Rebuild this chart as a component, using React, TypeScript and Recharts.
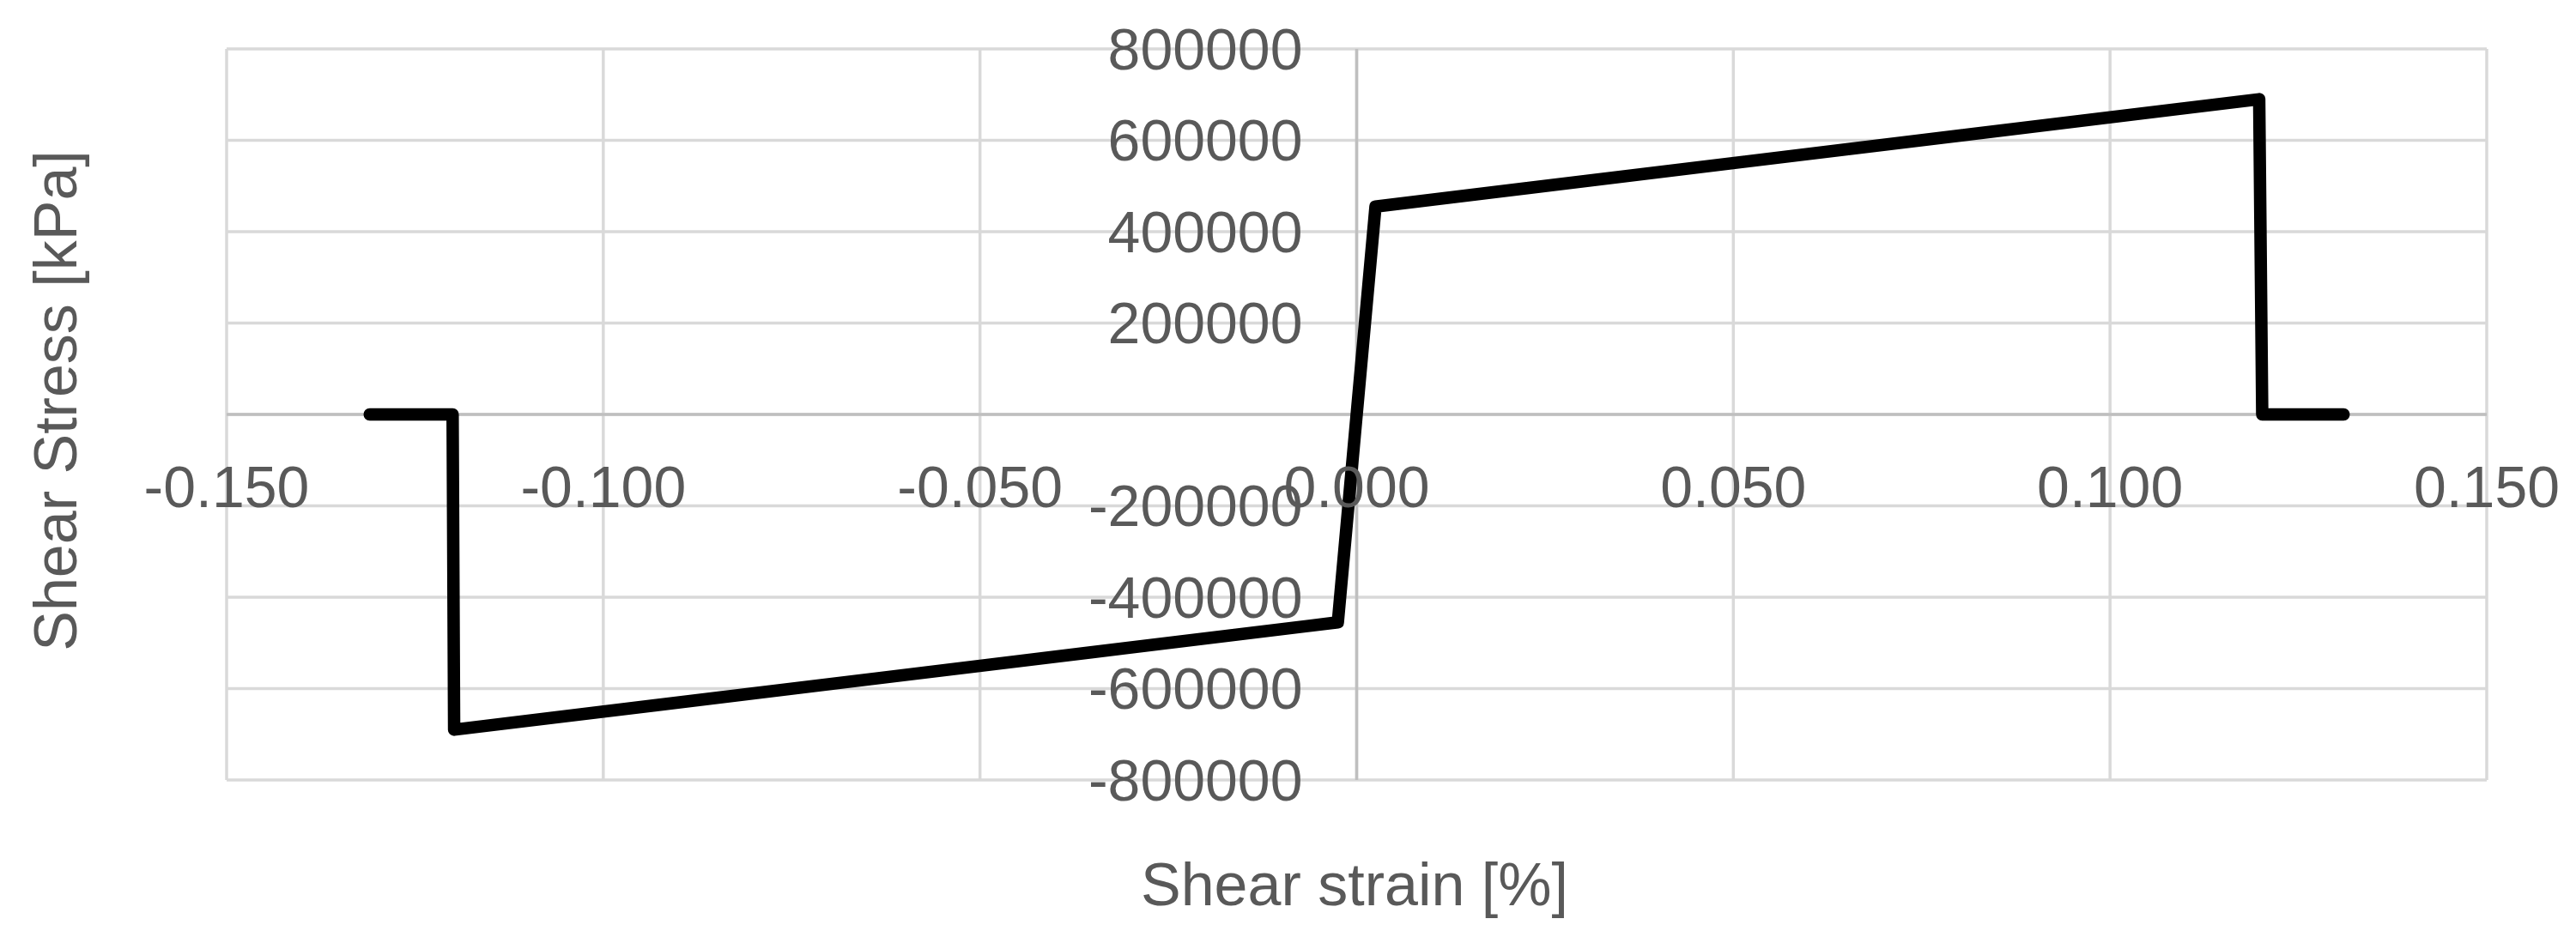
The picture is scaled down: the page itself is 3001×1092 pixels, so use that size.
import {
  LineChart,
  Line,
  XAxis,
  YAxis,
  CartesianGrid,
  ReferenceLine,
  ReferenceDot,
} from "recharts";

const strain = [-0.131, -0.12, -0.1198, -0.0025, 0.0025, 0.1198, 0.1202, 0.131];
const stress = [0, 0, -690000, -455000, 455000, 690000, 0, 0];

const xTicks = [-0.15, -0.1, -0.05, 0, 0.05, 0.1, 0.15];
const yTicks = [-800000, -600000, -400000, -200000, 0, 200000, 400000, 600000, 800000];
// Excel leaves the "0" out on the value axis
const yTickLabels = yTicks.filter((v) => v !== 0);

const data = strain.map((x, i) => ({ x, y: stress[i] }));

const FONT = "'Liberation Sans', Arial, sans-serif";
const TEXT = "#595959";

const XTickLabel = (props: any) => {
  const { viewBox, text } = props;
  return (
    <text
      x={viewBox.x}
      y={viewBox.y + 108}
      textAnchor="middle"
      fill={TEXT}
      fontSize={68}
      fontFamily={FONT}
    >
      {text}
    </text>
  );
};

const YTickLabel = (props: any) => {
  const { viewBox, text } = props;
  return (
    <text
      x={viewBox.x - 63}
      y={viewBox.y}
      dy="0.35em"
      textAnchor="end"
      fill={TEXT}
      fontSize={68}
      fontFamily={FONT}
    >
      {text}
    </text>
  );
};

export default function App() {
  return (
    <div style={{ position: "relative", width: 3001, height: 1092, background: "#fff" }}>
      <style>{`body{margin:0;overflow:hidden;}`}</style>
      <LineChart
        width={3001}
        height={1092}
        data={data}
        margin={{ top: 57, right: 104, bottom: 183, left: 264 }}
      >
        <CartesianGrid stroke="#d9d9d9" strokeWidth={3.5} />
        <XAxis
          dataKey="x"
          type="number"
          domain={[-0.15, 0.15]}
          ticks={xTicks}
          hide
        />
        <YAxis type="number" domain={[-800000, 800000]} ticks={yTicks} hide />
        <ReferenceLine y={0} stroke="#bfbfbf" strokeWidth={3.5} />
        <ReferenceLine x={0} stroke="#bfbfbf" strokeWidth={3.5} />
        <Line
          type="linear"
          dataKey="y"
          stroke="#000"
          strokeWidth={14.5}
          strokeLinecap="round"
          strokeLinejoin="round"
          dot={false}
          activeDot={false}
          isAnimationActive={false}
        />
        {xTicks.map((v) => (
          <ReferenceDot
            key={"x" + v}
            x={v}
            y={0}
            r={0}
            fill="none"
            stroke="none"
            label={<XTickLabel text={v.toFixed(3)} />}
          />
        ))}
        {yTickLabels.map((v) => (
          <ReferenceDot
            key={"y" + v}
            x={0}
            y={v}
            r={0}
            fill="none"
            stroke="none"
            label={<YTickLabel text={String(v)} />}
          />
        ))}
      </LineChart>
      <svg
        width={3001}
        height={1092}
        style={{ position: "absolute", left: 0, top: 0, pointerEvents: "none" }}
      >
        <text
          x={89}
          y={467}
          transform="rotate(-90, 89, 467)"
          textAnchor="middle"
          fill={TEXT}
          fontSize={70}
          fontFamily={FONT}
        >
          Shear Stress [kPa]
        </text>
        <text
          x={1578}
          y={1055}
          textAnchor="middle"
          fill={TEXT}
          fontSize={70}
          fontFamily={FONT}
        >
          Shear strain [%]
        </text>
      </svg>
    </div>
  );
}
